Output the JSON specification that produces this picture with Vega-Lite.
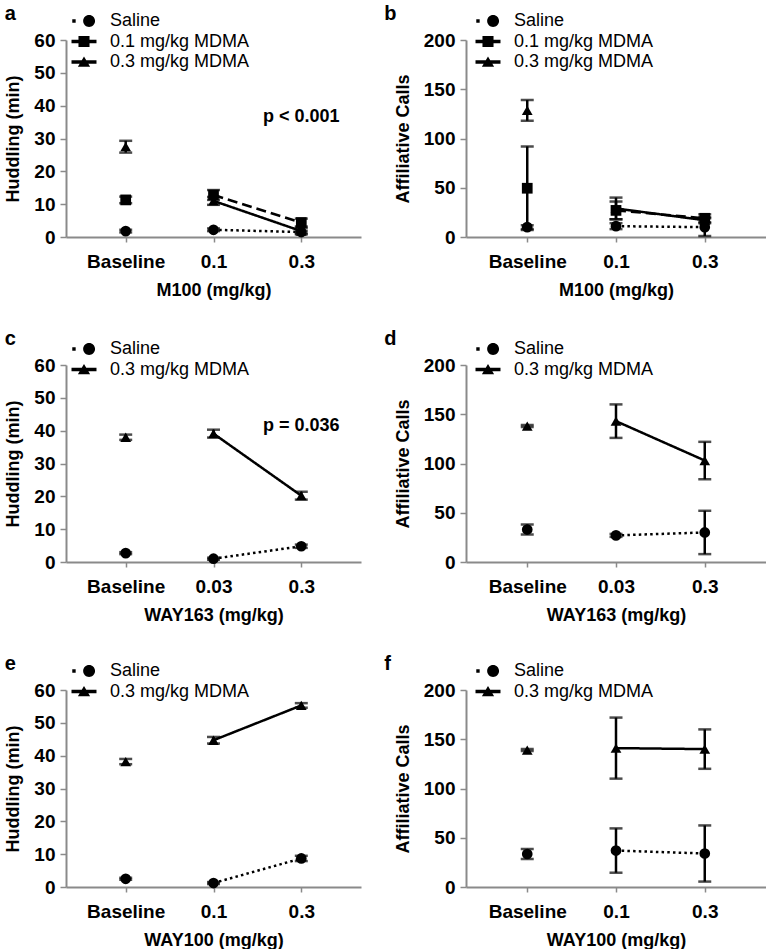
{
  "$schema": "https://vega.github.io/schema/vega-lite/v6.json",
  "background": "white",
  "padding": {"left": 4, "top": 4, "right": 0, "bottom": 0},
  "datasets": {
    "a": [
      {"dose": "Baseline", "grp": "Saline", "mean": 1.8, "sem": 0.4},
      {"dose": "0.1", "grp": "Saline", "mean": 2.2, "sem": 0.4},
      {"dose": "0.3", "grp": "Saline", "mean": 1.5, "sem": 0.4},
      {"dose": "Baseline", "grp": "0.1 mg/kg MDMA", "mean": 11.3, "sem": 1.0},
      {"dose": "0.1", "grp": "0.1 mg/kg MDMA", "mean": 12.8, "sem": 1.5},
      {"dose": "0.3", "grp": "0.1 mg/kg MDMA", "mean": 4.4, "sem": 1.2},
      {"dose": "Baseline", "grp": "0.3 mg/kg MDMA", "mean": 27.5, "sem": 1.8},
      {"dose": "0.1", "grp": "0.3 mg/kg MDMA", "mean": 11.0, "sem": 1.2},
      {"dose": "0.3", "grp": "0.3 mg/kg MDMA", "mean": 1.8, "sem": 1.0}
    ],
    "b": [
      {"dose": "Baseline", "grp": "Saline", "mean": 10, "sem": 2},
      {"dose": "0.1", "grp": "Saline", "mean": 11, "sem": 3},
      {"dose": "0.3", "grp": "Saline", "mean": 10, "sem": 9},
      {"dose": "Baseline", "grp": "0.1 mg/kg MDMA", "mean": 49.5, "sem": 42.5},
      {"dose": "0.1", "grp": "0.1 mg/kg MDMA", "mean": 27, "sem": 9},
      {"dose": "0.3", "grp": "0.1 mg/kg MDMA", "mean": 19, "sem": 4},
      {"dose": "Baseline", "grp": "0.3 mg/kg MDMA", "mean": 128.5, "sem": 10.5},
      {"dose": "0.1", "grp": "0.3 mg/kg MDMA", "mean": 29, "sem": 11},
      {"dose": "0.3", "grp": "0.3 mg/kg MDMA", "mean": 17, "sem": 3}
    ],
    "c": [
      {"dose": "Baseline", "grp": "Saline", "mean": 2.7, "sem": 0.3},
      {"dose": "0.03", "grp": "Saline", "mean": 1.0, "sem": 0.3},
      {"dose": "0.3", "grp": "Saline", "mean": 4.8, "sem": 0.5},
      {"dose": "Baseline", "grp": "0.3 mg/kg MDMA", "mean": 38.0, "sem": 0.8},
      {"dose": "0.03", "grp": "0.3 mg/kg MDMA", "mean": 39.1, "sem": 1.2},
      {"dose": "0.3", "grp": "0.3 mg/kg MDMA", "mean": 20.2, "sem": 1.2}
    ],
    "d": [
      {"dose": "Baseline", "grp": "Saline", "mean": 33, "sem": 5},
      {"dose": "0.03", "grp": "Saline", "mean": 27, "sem": 1.5},
      {"dose": "0.3", "grp": "Saline", "mean": 30, "sem": 22},
      {"dose": "Baseline", "grp": "0.3 mg/kg MDMA", "mean": 138, "sem": 1},
      {"dose": "0.03", "grp": "0.3 mg/kg MDMA", "mean": 143, "sem": 17},
      {"dose": "0.3", "grp": "0.3 mg/kg MDMA", "mean": 103, "sem": 19}
    ],
    "e": [
      {"dose": "Baseline", "grp": "Saline", "mean": 2.5, "sem": 0.3},
      {"dose": "0.1", "grp": "Saline", "mean": 1.2, "sem": 0.3},
      {"dose": "0.3", "grp": "Saline", "mean": 8.7, "sem": 0.8},
      {"dose": "Baseline", "grp": "0.3 mg/kg MDMA", "mean": 38.2, "sem": 0.8},
      {"dose": "0.1", "grp": "0.3 mg/kg MDMA", "mean": 44.7, "sem": 1.0},
      {"dose": "0.3", "grp": "0.3 mg/kg MDMA", "mean": 55.3, "sem": 0.7}
    ],
    "f": [
      {"dose": "Baseline", "grp": "Saline", "mean": 33.5, "sem": 5},
      {"dose": "0.1", "grp": "Saline", "mean": 37, "sem": 22.5},
      {"dose": "0.3", "grp": "Saline", "mean": 34, "sem": 28.5},
      {"dose": "Baseline", "grp": "0.3 mg/kg MDMA", "mean": 139, "sem": 1},
      {"dose": "0.1", "grp": "0.3 mg/kg MDMA", "mean": 141, "sem": 31},
      {"dose": "0.3", "grp": "0.3 mg/kg MDMA", "mean": 140, "sem": 20}
    ]
  },
  "columns": 2,
  "spacing": {"row": 30, "column": 23},
  "concat": [
    {
      "width": 295, "height": 197,
      "title": {"text": "a"},
      "data": {"name": "a"},
      "encoding": {
        "x": {"field": "dose", "type": "ordinal", "scale": {"type": "point", "domain": ["Baseline", "0.1", "0.3"], "padding": 0.68}, "axis": {"title": "M100 (mg/kg)"}},
        "y": {"field": "mean", "type": "quantitative", "scale": {"domain": [0, 60]}, "axis": {"title": "Huddling (min)", "values": [0, 10, 20, 30, 40, 50, 60]}}
      },
      "layer": [
        {"mark": {"type": "errorbar", "ticks": {"size": 13, "thickness": 2.5, "color": "black"}, "thickness": 2.5, "color": "black"}, "encoding": {"yError": {"field": "sem"}}},
        {"transform": [{"filter": "datum.dose !== 'Baseline'"}], "mark": {"type": "line", "color": "black", "strokeWidth": 2.5}, "encoding": {"strokeDash": {"field": "grp", "type": "nominal", "scale": {"domain": ["Saline", "0.1 mg/kg MDMA", "0.3 mg/kg MDMA"], "range": [[2.5, 3.2], [10, 5], [1, 0]]}, "legend": null}}},
        {"mark": {"type": "point", "filled": true, "color": "black", "size": 115, "opacity": 1}, "encoding": {"shape": {"field": "grp", "type": "nominal", "scale": {"domain": ["Saline", "0.1 mg/kg MDMA", "0.3 mg/kg MDMA"], "range": ["circle", "square", "triangle-up"]}, "legend": null}}},
        {"transform": [{"filter": "false"}], "mark": {"type": "point", "filled": true, "color": "black", "opacity": 1}, "encoding": {"shape": {"field": "grp", "type": "nominal", "scale": {"domain": ["Saline", "0.1 mg/kg MDMA", "0.3 mg/kg MDMA"], "range": ["M-1.38,-0.2H-0.98V0.2H-1.38Z M1.3,0A0.7,0.7 0 1,1 -0.1,0A0.7,0.7 0 1,1 1.3,0Z", "M-1.47,-0.2H1.47V0.2H-1.47Z M-0.65,-0.65H0.65V0.65H-0.65Z", "M-1.47,-0.2H1.47V0.2H-1.47Z M-0.72,0.55L0,-0.66L0.72,0.55Z"]}, "legend": {"orient": "none", "legendX": 9, "legendY": -28}}}},
        {"data": {"values": [{"dose": "0.3", "mean": 36.5, "label": "p < 0.001"}]}, "mark": {"type": "text", "fontSize": 18, "fontWeight": "bold", "color": "black"}, "encoding": {"text": {"field": "label"}}}
      ],
      "resolve": {"scale": {"shape": "independent"}}
    },
    {
      "width": 300, "height": 197,
      "title": {"text": "b", "dx": -10},
      "data": {"name": "b"},
      "encoding": {
        "x": {"field": "dose", "type": "ordinal", "scale": {"type": "point", "domain": ["Baseline", "0.1", "0.3"], "padding": 0.69}, "axis": {"title": "M100 (mg/kg)"}},
        "y": {"field": "mean", "type": "quantitative", "scale": {"domain": [0, 200]}, "axis": {"title": "Affiliative Calls", "values": [0, 50, 100, 150, 200]}}
      },
      "layer": [
        {"mark": {"type": "errorbar", "ticks": {"size": 13, "thickness": 2.5, "color": "black"}, "thickness": 2.5, "color": "black"}, "encoding": {"yError": {"field": "sem"}}},
        {"transform": [{"filter": "datum.dose !== 'Baseline'"}], "mark": {"type": "line", "color": "black", "strokeWidth": 2.5}, "encoding": {"strokeDash": {"field": "grp", "type": "nominal", "scale": {"domain": ["Saline", "0.1 mg/kg MDMA", "0.3 mg/kg MDMA"], "range": [[2.5, 3.2], [10, 5], [1, 0]]}, "legend": null}}},
        {"mark": {"type": "point", "filled": true, "color": "black", "size": 115, "opacity": 1}, "encoding": {"shape": {"field": "grp", "type": "nominal", "scale": {"domain": ["Saline", "0.1 mg/kg MDMA", "0.3 mg/kg MDMA"], "range": ["circle", "square", "triangle-up"]}, "legend": null}}},
        {"transform": [{"filter": "false"}], "mark": {"type": "point", "filled": true, "color": "black", "opacity": 1}, "encoding": {"shape": {"field": "grp", "type": "nominal", "scale": {"domain": ["Saline", "0.1 mg/kg MDMA", "0.3 mg/kg MDMA"], "range": ["M-1.38,-0.2H-0.98V0.2H-1.38Z M1.3,0A0.7,0.7 0 1,1 -0.1,0A0.7,0.7 0 1,1 1.3,0Z", "M-1.47,-0.2H1.47V0.2H-1.47Z M-0.65,-0.65H0.65V0.65H-0.65Z", "M-1.47,-0.2H1.47V0.2H-1.47Z M-0.72,0.55L0,-0.66L0.72,0.55Z"]}, "legend": {"orient": "none", "legendX": 13, "legendY": -28}}}}
      ],
      "resolve": {"scale": {"shape": "independent"}}
    },
    {
      "width": 295, "height": 197,
      "title": {"text": "c", "offset": -9},
      "data": {"name": "c"},
      "encoding": {
        "x": {"field": "dose", "type": "ordinal", "scale": {"type": "point", "domain": ["Baseline", "0.03", "0.3"], "padding": 0.68}, "axis": {"title": "WAY163 (mg/kg)"}},
        "y": {"field": "mean", "type": "quantitative", "scale": {"domain": [0, 60]}, "axis": {"title": "Huddling (min)", "values": [0, 10, 20, 30, 40, 50, 60]}}
      },
      "layer": [
        {"mark": {"type": "errorbar", "ticks": {"size": 13, "thickness": 2.5, "color": "black"}, "thickness": 2.5, "color": "black"}, "encoding": {"yError": {"field": "sem"}}},
        {"transform": [{"filter": "datum.dose !== 'Baseline'"}], "mark": {"type": "line", "color": "black", "strokeWidth": 2.5}, "encoding": {"strokeDash": {"field": "grp", "type": "nominal", "scale": {"domain": ["Saline", "0.3 mg/kg MDMA"], "range": [[2.5, 3.2], [1, 0]]}, "legend": null}}},
        {"mark": {"type": "point", "filled": true, "color": "black", "size": 115, "opacity": 1}, "encoding": {"shape": {"field": "grp", "type": "nominal", "scale": {"domain": ["Saline", "0.3 mg/kg MDMA"], "range": ["circle", "triangle-up"]}, "legend": null}}},
        {"transform": [{"filter": "false"}], "mark": {"type": "point", "filled": true, "color": "black", "opacity": 1}, "encoding": {"shape": {"field": "grp", "type": "nominal", "scale": {"domain": ["Saline", "0.3 mg/kg MDMA"], "range": ["M-1.38,-0.2H-0.98V0.2H-1.38Z M1.3,0A0.7,0.7 0 1,1 -0.1,0A0.7,0.7 0 1,1 1.3,0Z", "M-1.47,-0.2H1.47V0.2H-1.47Z M-0.72,0.55L0,-0.66L0.72,0.55Z"]}, "legend": {"orient": "none", "legendX": 9, "legendY": -25}}}},
        {"data": {"values": [{"dose": "0.3", "mean": 41.5, "label": "p = 0.036"}]}, "mark": {"type": "text", "fontSize": 18, "fontWeight": "bold", "color": "black"}, "encoding": {"text": {"field": "label"}}}
      ],
      "resolve": {"scale": {"shape": "independent"}}
    },
    {
      "width": 300, "height": 197,
      "title": {"text": "d", "dx": -10, "offset": -9},
      "data": {"name": "d"},
      "encoding": {
        "x": {"field": "dose", "type": "ordinal", "scale": {"type": "point", "domain": ["Baseline", "0.03", "0.3"], "padding": 0.69}, "axis": {"title": "WAY163 (mg/kg)"}},
        "y": {"field": "mean", "type": "quantitative", "scale": {"domain": [0, 200]}, "axis": {"title": "Affiliative Calls", "values": [0, 50, 100, 150, 200]}}
      },
      "layer": [
        {"mark": {"type": "errorbar", "ticks": {"size": 13, "thickness": 2.5, "color": "black"}, "thickness": 2.5, "color": "black"}, "encoding": {"yError": {"field": "sem"}}},
        {"transform": [{"filter": "datum.dose !== 'Baseline'"}], "mark": {"type": "line", "color": "black", "strokeWidth": 2.5}, "encoding": {"strokeDash": {"field": "grp", "type": "nominal", "scale": {"domain": ["Saline", "0.3 mg/kg MDMA"], "range": [[2.5, 3.2], [1, 0]]}, "legend": null}}},
        {"mark": {"type": "point", "filled": true, "color": "black", "size": 115, "opacity": 1}, "encoding": {"shape": {"field": "grp", "type": "nominal", "scale": {"domain": ["Saline", "0.3 mg/kg MDMA"], "range": ["circle", "triangle-up"]}, "legend": null}}},
        {"transform": [{"filter": "false"}], "mark": {"type": "point", "filled": true, "color": "black", "opacity": 1}, "encoding": {"shape": {"field": "grp", "type": "nominal", "scale": {"domain": ["Saline", "0.3 mg/kg MDMA"], "range": ["M-1.38,-0.2H-0.98V0.2H-1.38Z M1.3,0A0.7,0.7 0 1,1 -0.1,0A0.7,0.7 0 1,1 1.3,0Z", "M-1.47,-0.2H1.47V0.2H-1.47Z M-0.72,0.55L0,-0.66L0.72,0.55Z"]}, "legend": {"orient": "none", "legendX": 13, "legendY": -25}}}}
      ],
      "resolve": {"scale": {"shape": "independent"}}
    },
    {
      "width": 295, "height": 197,
      "title": {"text": "e"},
      "data": {"name": "e"},
      "encoding": {
        "x": {"field": "dose", "type": "ordinal", "scale": {"type": "point", "domain": ["Baseline", "0.1", "0.3"], "padding": 0.68}, "axis": {"title": "WAY100 (mg/kg)"}},
        "y": {"field": "mean", "type": "quantitative", "scale": {"domain": [0, 60]}, "axis": {"title": "Huddling (min)", "values": [0, 10, 20, 30, 40, 50, 60]}}
      },
      "layer": [
        {"mark": {"type": "errorbar", "ticks": {"size": 13, "thickness": 2.5, "color": "black"}, "thickness": 2.5, "color": "black"}, "encoding": {"yError": {"field": "sem"}}},
        {"transform": [{"filter": "datum.dose !== 'Baseline'"}], "mark": {"type": "line", "color": "black", "strokeWidth": 2.5}, "encoding": {"strokeDash": {"field": "grp", "type": "nominal", "scale": {"domain": ["Saline", "0.3 mg/kg MDMA"], "range": [[2.5, 3.2], [1, 0]]}, "legend": null}}},
        {"mark": {"type": "point", "filled": true, "color": "black", "size": 115, "opacity": 1}, "encoding": {"shape": {"field": "grp", "type": "nominal", "scale": {"domain": ["Saline", "0.3 mg/kg MDMA"], "range": ["circle", "triangle-up"]}, "legend": null}}},
        {"transform": [{"filter": "false"}], "mark": {"type": "point", "filled": true, "color": "black", "opacity": 1}, "encoding": {"shape": {"field": "grp", "type": "nominal", "scale": {"domain": ["Saline", "0.3 mg/kg MDMA"], "range": ["M-1.38,-0.2H-0.98V0.2H-1.38Z M1.3,0A0.7,0.7 0 1,1 -0.1,0A0.7,0.7 0 1,1 1.3,0Z", "M-1.47,-0.2H1.47V0.2H-1.47Z M-0.72,0.55L0,-0.66L0.72,0.55Z"]}, "legend": {"orient": "none", "legendX": 9, "legendY": -28}}}}
      ],
      "resolve": {"scale": {"shape": "independent"}}
    },
    {
      "width": 300, "height": 197,
      "title": {"text": "f", "dx": -10},
      "data": {"name": "f"},
      "encoding": {
        "x": {"field": "dose", "type": "ordinal", "scale": {"type": "point", "domain": ["Baseline", "0.1", "0.3"], "padding": 0.69}, "axis": {"title": "WAY100 (mg/kg)"}},
        "y": {"field": "mean", "type": "quantitative", "scale": {"domain": [0, 200]}, "axis": {"title": "Affiliative Calls", "values": [0, 50, 100, 150, 200]}}
      },
      "layer": [
        {"mark": {"type": "errorbar", "ticks": {"size": 13, "thickness": 2.5, "color": "black"}, "thickness": 2.5, "color": "black"}, "encoding": {"yError": {"field": "sem"}}},
        {"transform": [{"filter": "datum.dose !== 'Baseline'"}], "mark": {"type": "line", "color": "black", "strokeWidth": 2.5}, "encoding": {"strokeDash": {"field": "grp", "type": "nominal", "scale": {"domain": ["Saline", "0.3 mg/kg MDMA"], "range": [[2.5, 3.2], [1, 0]]}, "legend": null}}},
        {"mark": {"type": "point", "filled": true, "color": "black", "size": 115, "opacity": 1}, "encoding": {"shape": {"field": "grp", "type": "nominal", "scale": {"domain": ["Saline", "0.3 mg/kg MDMA"], "range": ["circle", "triangle-up"]}, "legend": null}}},
        {"transform": [{"filter": "false"}], "mark": {"type": "point", "filled": true, "color": "black", "opacity": 1}, "encoding": {"shape": {"field": "grp", "type": "nominal", "scale": {"domain": ["Saline", "0.3 mg/kg MDMA"], "range": ["M-1.38,-0.2H-0.98V0.2H-1.38Z M1.3,0A0.7,0.7 0 1,1 -0.1,0A0.7,0.7 0 1,1 1.3,0Z", "M-1.47,-0.2H1.47V0.2H-1.47Z M-0.72,0.55L0,-0.66L0.72,0.55Z"]}, "legend": {"orient": "none", "legendX": 13, "legendY": -28}}}}
      ],
      "resolve": {"scale": {"shape": "independent"}}
    }
  ],
  "config": {
    "font": "Liberation Sans",
    "view": {"stroke": null},
    "title": {"anchor": "start", "frame": "bounds", "fontSize": 20, "fontWeight": "bold", "color": "black", "offset": -12},
    "axis": {"grid": false, "domainColor": "#8a8a8a", "domainWidth": 2, "tickColor": "#8a8a8a", "tickWidth": 1.5, "labelFontSize": 19, "labelFontWeight": "bold", "labelColor": "black", "titleFontSize": 18, "titleFontWeight": "bold", "titleColor": "black"},
    "axisX": {"labelAngle": 0, "tickSize": 5, "labelPadding": 10, "titlePadding": 10},
    "axisY": {"tickSize": 6, "labelPadding": 5, "titlePadding": 11},
    "legend": {"title": null, "direction": "vertical", "padding": 0, "labelFontSize": 18, "labelColor": "black", "labelFont": "Liberation Sans", "symbolSize": 289, "symbolFillColor": "black", "symbolStrokeColor": "black", "symbolStrokeWidth": 0, "labelOffset": 17, "rowPadding": 2.5, "symbolOpacity": 1}
  }
}
